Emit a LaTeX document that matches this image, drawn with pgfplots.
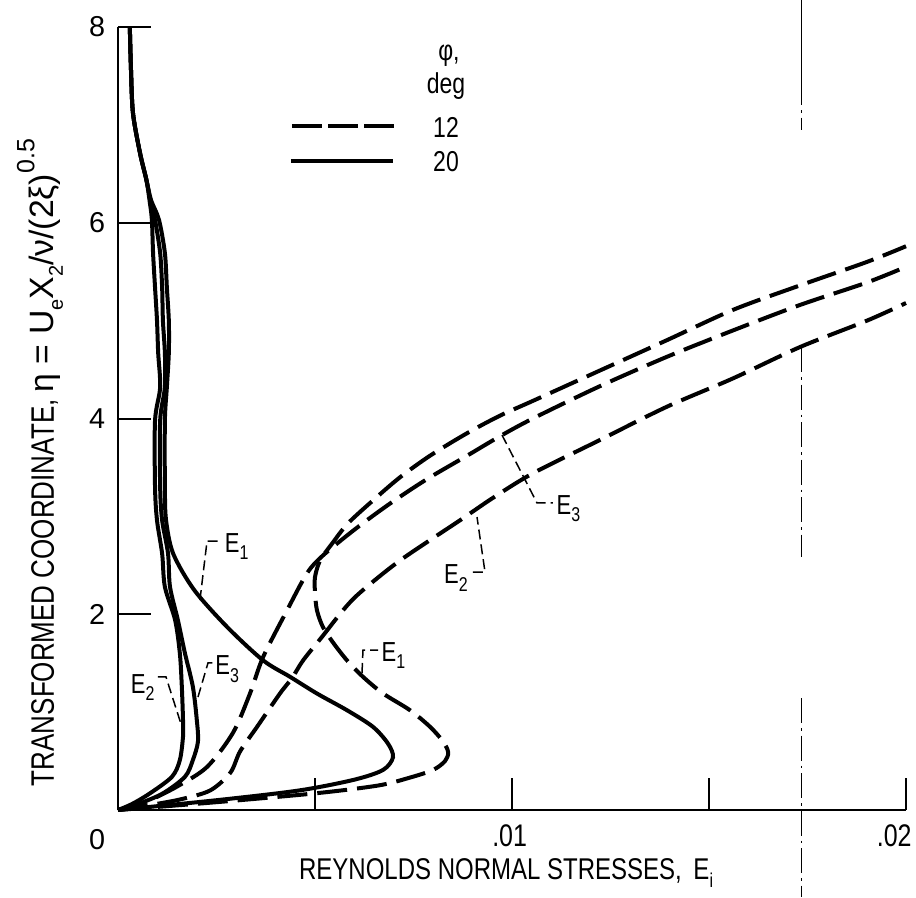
\documentclass[border=0pt]{standalone}
\usepackage{fontspec}
\setmainfont{Liberation Sans}[FakeStretch=0.8]
\newfontfamily\wide{Liberation Sans}
\usepackage{pgfplots}
\pgfplotsset{compat=1.18}
\newcommand\sub[1]{\raisebox{-0.5ex}{\fontsize{8}{8}\selectfont #1}}
\newcommand\sups[1]{\raisebox{1.1ex}{\fontsize{10}{10}\selectfont #1}}
\tikzset{
  dsh/.style={line width=1.6pt, dash pattern=on 12pt off 4pt},
  sol/.style={line width=1.6pt},
  lead/.style={line width=0.6pt, dash pattern=on 4pt off 2pt},
  elab/.style={inner sep=0pt, font=\fontsize{11}{11}\selectfont},
}
\begin{document}
\begin{tikzpicture}
\begin{axis}[
  at={(0,0)}, anchor=south west,
  scale only axis, width=315.2pt, height=313.2pt,
  xmin=0, xmax=0.02, ymin=0, ymax=8,
  axis x line*=bottom, axis y line*=left,
  axis line style={line width=1pt},
  tick align=inside, major tick length=13pt,
  tick style={line width=0.8pt, black},
  xtick={0.005,0.01,0.015,0.02}, xticklabels={},
  ytick={2,4,6,8}, yticklabels={2,4,6,8},
  scaled x ticks=false,
  yticklabel style={font=\wide\fontsize{11.5}{11.5}\selectfont, anchor=center, xshift=-8.4pt},
  clip=false,
]
% phi = 20 deg (solid)
\addplot[sol, smooth, tension=0.5] coordinates {(0,0) (0.0025,0.10) (0.0046,0.20) (0.0060,0.31) (0.00673,0.41) (0.00698,0.54) (0.00685,0.68) (0.00647,0.85) (0.00581,1.02) (0.00505,1.19) (0.00437,1.36) (0.00368,1.53) (0.00277,1.87) (0.00193,2.25) (0.0014,2.62) (0.00122,2.96) (0.00119,3.30) (0.00119,3.98) (0.00124,4.32) (0.00129,4.67) (0.00129,5.00) (0.00124,5.34) (0.00119,5.69) (0.00104,6.03) (0.00084,6.23) (0.00072,6.44) (0.00056,6.71) (0.00038,7.12) (0.00033,7.56) (0.00030,8.00)};
\addplot[sol, smooth, tension=0.5] coordinates {(0,0) (0.00035,0.06) (0.00081,0.17) (0.00137,0.34) (0.00157,0.51) (0.00165,0.75) (0.00165,0.92) (0.00162,1.26) (0.00157,1.60) (0.00145,1.94) (0.00119,2.28) (0.00112,2.62) (0.00099,2.96) (0.00094,3.30) (0.00094,3.98) (0.00107,4.32) (0.00102,4.67) (0.00099,5.00) (0.00094,5.34) (0.00089,5.69) (0.00086,6.03) (0.00080,6.23) (0.00072,6.44) (0.00056,6.71) (0.00038,7.12) (0.00033,7.56) (0.00030,8.00)};
\addplot[sol, smooth, tension=0.5] coordinates {(0,0) (0.0005,0.06) (0.00114,0.17) (0.0017,0.34) (0.0019,0.51) (0.00203,0.70) (0.0020,0.92) (0.0019,1.26) (0.0017,1.60) (0.00152,1.94) (0.00132,2.28) (0.00127,2.62) (0.00112,2.96) (0.00107,3.30) (0.00107,3.98) (0.00119,4.32) (0.00119,4.67) (0.00114,5.00) (0.00112,5.34) (0.00107,5.69) (0.00094,6.03) (0.00082,6.23) (0.00072,6.44) (0.00056,6.71) (0.00038,7.12) (0.00033,7.56) (0.00030,8.00)};
% phi = 12 deg (dashed)
\addplot[dsh, smooth, tension=0.5] coordinates {(0,0) (0.0025,0.08) (0.005,0.17) (0.0066,0.25) (0.0074,0.33) (0.0080,0.41) (0.0083,0.50) (0.00838,0.59) (0.00825,0.70) (0.00792,0.85) (0.00741,1.02) (0.00673,1.19) (0.00622,1.36) (0.00581,1.53) (0.00546,1.71) (0.0052,1.87) (0.00505,2.04) (0.0050,2.22) (0.0050,2.38) (0.00513,2.55) (0.00543,2.72) (0.00584,2.93) (0.00652,3.18) (0.00716,3.40) (0.00792,3.62) (0.00886,3.85) (0.0097,4.03) (0.01053,4.18) (0.01223,4.49) (0.01393,4.80) (0.01561,5.11) (0.01731,5.36) (0.01901,5.60) (0.0200,5.76)};
\addplot[dsh, smooth, tension=0.5] coordinates {(0,0) (0.0008,0.05) (0.0016,0.11) (0.00234,0.20) (0.00285,0.38) (0.0031,0.60) (0.00353,0.85) (0.00411,1.19) (0.00442,1.35) (0.0047,1.53) (0.00518,1.77) (0.00571,2.04) (0.00614,2.22) (0.00716,2.55) (0.00868,2.96) (0.00952,3.19) (0.01053,3.44) (0.01223,3.78) (0.01393,4.12) (0.01561,4.41) (0.01731,4.73) (0.01901,5.00) (0.0200,5.18)};
\addplot[dsh, smooth, tension=0.5] coordinates {(0,0) (0.0004,0.04) (0.00081,0.10) (0.0015,0.24) (0.00226,0.44) (0.00292,0.79) (0.00335,1.19) (0.00368,1.56) (0.00429,2.04) (0.0048,2.42) (0.0052,2.60) (0.00602,2.87) (0.0069,3.13) (0.00784,3.38) (0.00886,3.62) (0.0097,3.82) (0.01053,4.00) (0.01223,4.33) (0.01393,4.63) (0.01561,4.90) (0.01731,5.16) (0.01901,5.39) (0.0200,5.55)};
% legend samples
\addplot[line width=1.6pt, dash pattern=on 12pt off 2.5pt] coordinates {(0.004416,6.989) (0.00703,6.989)};
\addplot[sol] coordinates {(0.00439,6.631) (0.00698,6.631)};
% fold line
\addplot[line width=0.4pt] coordinates {(0.01736,8.276) (0.01736,7.356)};
\addplot[line width=0.4pt, dash pattern=on 6pt off 2pt on 1pt off 2pt] coordinates {(0.01736,7.356) (0.01736,6.948)};
\addplot[line width=0.4pt, dash pattern=on 10pt off 2pt on 1pt off 2pt] coordinates {(0.01736,4.730) (0.01736,2.585)};
\addplot[line width=0.4pt, dash pattern=on 10pt off 2pt on 1pt off 2pt] coordinates {(0.01736,1.144) (0.01736,-0.889)};
% leaders
\draw[lead] (axis cs:0.00208,2.145) -- (axis cs:0.00226,2.748) -- (axis cs:0.00264,2.748);
\node[elab, anchor=west] at (axis cs:0.00270,2.69) {E\sub{1}};
\draw[lead] (axis cs:0.001015,1.359) -- (axis cs:0.001218,1.359) -- (axis cs:0.001624,0.848);
\node[elab, anchor=east] at (axis cs:0.00094,1.25) {E\sub{2}};
\draw[lead] (axis cs:0.00203,1.154) -- (axis cs:0.002284,1.502) -- (axis cs:0.00241,1.502);
\node[elab, anchor=west] at (axis cs:0.00246,1.44) {E\sub{3}};
\draw[lead] (axis cs:0.006193,1.40) -- (axis cs:0.006218,1.634) -- (axis cs:0.006599,1.634);
\node[elab, anchor=west] at (axis cs:0.00668,1.58) {E\sub{1}};
\draw[lead] (axis cs:0.00901,2.431) -- (axis cs:0.009315,2.431) -- (axis cs:0.009112,2.993);
\node[elab, anchor=east] at (axis cs:0.00889,2.37) {E\sub{2}};
\draw[lead] (axis cs:0.009746,3.831) -- (axis cs:0.010635,3.137) -- (axis cs:0.01104,3.137);
\node[elab, anchor=west] at (axis cs:0.01112,3.08) {E\sub{3}};
% legend text
\node[font=\fontsize{11.5}{11.5}\selectfont] at (axis cs:0.0084,7.71) {φ,};
\node[font=\fontsize{11.5}{11.5}\selectfont] at (axis cs:0.008325,7.40) {deg};
\node[font=\fontsize{11.5}{11.5}\selectfont] at (axis cs:0.008325,6.97) {12};
\node[font=\fontsize{11.5}{11.5}\selectfont] at (axis cs:0.008325,6.62) {20};
% tick labels on x
\node[font=\wide\fontsize{11.5}{11.5}\selectfont] at (axis cs:-0.000533,-0.3065) {0};
\node[anchor=base, font=\fontsize{12.5}{12.5}\selectfont] at (axis cs:0.00994,-0.378) {.01};
\node[anchor=base, font=\fontsize{12.5}{12.5}\selectfont] at (axis cs:0.01970,-0.378) {.02};
% axis labels
\node[font=\fontsize{12}{12}\selectfont] at (axis cs:0.00985,-0.64) {REYNOLDS NORMAL STRESSES, \,E\sub{i}};
\node[rotate=90, font=\fontsize{13}{13}\selectfont] at (axis cs:-0.00198,3.55) {TRANSFORMED COORDINATE, {\wide\fontsize{13.5}{13.5}\selectfont η = U\sub{e}X\sub{2}/ν/(2ξ)\sups{0.5}}};
\end{axis}
\pgfresetboundingbox
\path[use as bounding box] (-47.2pt,-34.8pt) rectangle (319.2pt,324pt);
\end{tikzpicture}
\end{document}
